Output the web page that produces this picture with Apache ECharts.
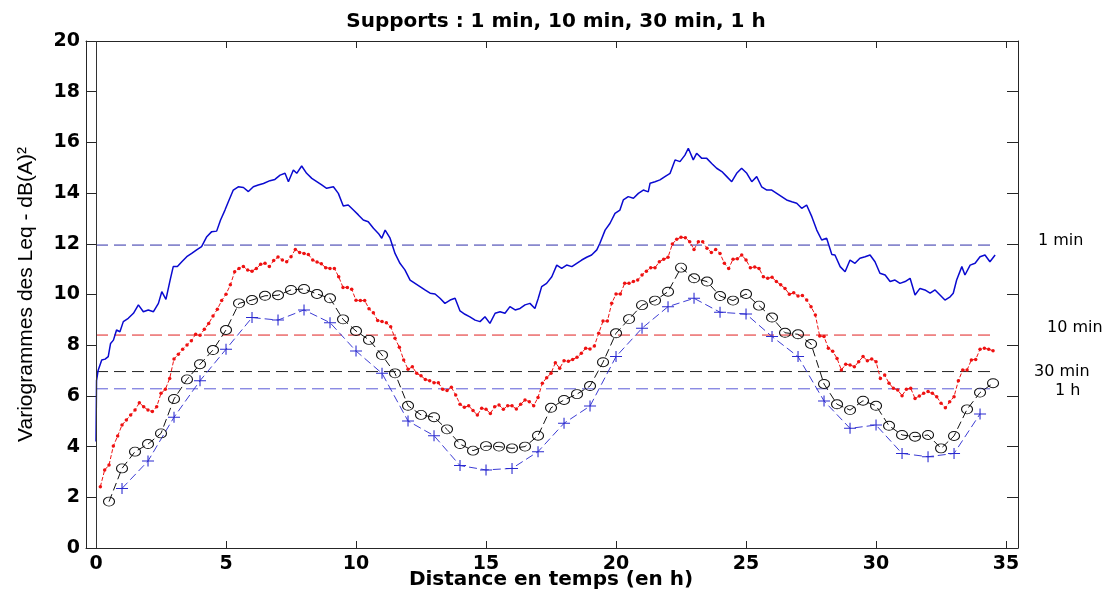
<!DOCTYPE html>
<html>
<head>
<meta charset="utf-8">
<script src="https://cdn.jsdelivr.net/npm/echarts@6/dist/echarts.min.js"></script>
<style>
  html, body { margin: 0; padding: 0; background: #fff; }
  #chart { width: 1112px; height: 594px; }
</style>
</head>
<body>
<div id="chart"></div>
<script>
// Tick labels
const xTicks = [0, 5, 10, 15, 20, 25, 30, 35];

// Support 1 min: experimental variogram (lag in h, value in dB(A)^2)
const lag1min = [0.00, 0.02, 0.08, 0.15, 0.22, 0.35, 0.47, 0.56, 0.67, 0.79, 0.92, 1.05, 1.24, 1.44, 1.63, 1.82, 2.01, 2.21, 2.40, 2.53, 2.69, 2.85, 2.97, 3.13, 3.30, 3.49, 3.68, 3.87, 4.06, 4.26, 4.45, 4.64, 4.79, 4.96, 5.09, 5.28, 5.47, 5.67, 5.86, 6.05, 6.24, 6.44, 6.69, 6.88, 7.08, 7.27, 7.40, 7.59, 7.72, 7.91, 8.10, 8.30, 8.49, 8.68, 8.87, 9.13, 9.32, 9.51, 9.70, 9.90, 10.09, 10.28, 10.47, 10.67, 10.86, 10.99, 11.12, 11.31, 11.50, 11.69, 11.88, 12.08, 12.27, 12.46, 12.65, 12.85, 13.04, 13.23, 13.42, 13.62, 13.81, 14.00, 14.19, 14.38, 14.58, 14.77, 14.96, 15.15, 15.35, 15.54, 15.73, 15.92, 16.12, 16.31, 16.50, 16.69, 16.88, 17.01, 17.14, 17.33, 17.53, 17.72, 17.91, 18.10, 18.30, 18.49, 18.68, 18.87, 19.06, 19.26, 19.38, 19.58, 19.77, 19.96, 20.15, 20.28, 20.47, 20.67, 20.86, 21.05, 21.24, 21.31, 21.50, 21.69, 21.88, 22.08, 22.27, 22.46, 22.65, 22.78, 22.97, 23.10, 23.30, 23.49, 23.68, 23.87, 24.07, 24.26, 24.45, 24.64, 24.83, 25.03, 25.22, 25.41, 25.60, 25.80, 25.99, 26.18, 26.37, 26.56, 26.76, 26.95, 27.14, 27.33, 27.53, 27.72, 27.91, 28.10, 28.30, 28.42, 28.62, 28.81, 29.00, 29.19, 29.38, 29.58, 29.77, 29.96, 30.15, 30.35, 30.54, 30.73, 30.92, 31.12, 31.31, 31.50, 31.69, 31.88, 32.08, 32.27, 32.46, 32.65, 32.85, 32.97, 33.10, 33.30, 33.42, 33.62, 33.81, 34.00, 34.19, 34.38, 34.58];
const vario1min = [4.20, 6.60, 7.00, 7.02, 7.42, 7.45, 7.55, 8.07, 8.20, 8.60, 8.53, 8.93, 9.06, 9.26, 9.59, 9.32, 9.39, 9.32, 9.65, 10.11, 9.81, 10.57, 11.10, 11.10, 11.29, 11.49, 11.62, 11.76, 11.89, 12.28, 12.48, 12.50, 12.94, 13.33, 13.66, 14.12, 14.25, 14.22, 14.06, 14.25, 14.32, 14.38, 14.49, 14.54, 14.71, 14.78, 14.45, 14.91, 14.78, 15.07, 14.78, 14.58, 14.45, 14.32, 14.19, 14.25, 13.99, 13.49, 13.53, 13.33, 13.14, 12.94, 12.87, 12.61, 12.41, 12.22, 12.54, 12.22, 11.62, 11.23, 10.97, 10.57, 10.44, 10.31, 10.18, 10.05, 10.02, 9.85, 9.65, 9.78, 9.85, 9.35, 9.22, 9.12, 8.99, 8.93, 9.12, 8.86, 9.26, 9.32, 9.26, 9.52, 9.39, 9.45, 9.59, 9.65, 9.45, 9.85, 10.31, 10.44, 10.70, 11.16, 11.03, 11.16, 11.10, 11.23, 11.36, 11.47, 11.56, 11.76, 12.02, 12.54, 12.81, 13.20, 13.33, 13.73, 13.86, 13.80, 13.99, 14.12, 14.05, 14.39, 14.45, 14.52, 14.65, 14.78, 15.31, 15.24, 15.50, 15.77, 15.31, 15.57, 15.37, 15.37, 15.17, 14.98, 14.85, 14.65, 14.45, 14.78, 14.98, 14.78, 14.45, 14.65, 14.25, 14.12, 14.12, 13.99, 13.86, 13.73, 13.66, 13.60, 13.40, 13.53, 13.07, 12.54, 12.15, 12.22, 11.58, 11.56, 11.10, 10.90, 11.36, 11.23, 11.43, 11.49, 11.56, 11.29, 10.84, 10.77, 10.51, 10.57, 10.44, 10.51, 10.64, 9.98, 10.24, 10.18, 10.05, 10.18, 9.98, 9.78, 9.91, 10.05, 10.57, 11.10, 10.77, 11.16, 11.23, 11.49, 11.56, 11.29, 11.56];

// Support 10 min: one value per 10-min lag, starting at 1/6 h
const vario10min = [2.42, 3.08, 3.27, 4.02, 4.42, 4.85, 5.05, 5.25, 5.44, 5.73, 5.57, 5.44, 5.38, 5.57, 6.10, 6.26, 6.69, 7.46, 7.64, 7.84, 8.01, 8.18, 8.43, 8.39, 8.63, 8.86, 9.15, 9.42, 9.76, 10.01, 10.38, 10.90, 11.03, 11.10, 10.97, 10.92, 11.03, 11.19, 11.23, 11.10, 11.34, 11.48, 11.36, 11.29, 11.49, 11.78, 11.66, 11.62, 11.58, 11.36, 11.28, 11.21, 11.06, 11.03, 11.03, 10.70, 10.28, 10.28, 10.21, 9.77, 9.76, 9.76, 9.44, 9.28, 8.97, 8.93, 8.89, 8.73, 8.27, 7.92, 7.42, 7.05, 7.15, 6.89, 6.79, 6.65, 6.60, 6.52, 6.52, 6.26, 6.21, 6.34, 6.04, 5.67, 5.55, 5.61, 5.42, 5.25, 5.51, 5.47, 5.31, 5.57, 5.64, 5.47, 5.61, 5.61, 5.48, 5.67, 5.84, 5.77, 5.61, 5.94, 6.50, 6.72, 6.89, 7.31, 7.09, 7.39, 7.37, 7.44, 7.52, 7.68, 7.88, 7.85, 7.97, 8.47, 8.95, 8.95, 9.65, 10.02, 10.02, 10.44, 10.44, 10.51, 10.57, 10.77, 10.92, 11.06, 11.06, 11.29, 11.39, 11.47, 11.99, 12.18, 12.26, 12.24, 12.08, 11.78, 12.08, 12.08, 11.82, 11.66, 11.78, 11.62, 11.23, 11.03, 11.39, 11.41, 11.56, 11.36, 11.06, 11.08, 11.03, 10.70, 10.64, 10.68, 10.51, 10.38, 10.24, 10.01, 10.07, 9.94, 9.96, 9.78, 9.52, 9.19, 8.36, 8.34, 7.88, 7.76, 7.48, 7.02, 7.25, 7.22, 7.15, 7.35, 7.55, 7.39, 7.46, 7.35, 6.69, 6.82, 6.50, 6.30, 6.23, 6.01, 6.26, 6.30, 5.90, 6.00, 6.10, 6.17, 6.10, 5.97, 5.71, 5.53, 5.77, 5.97, 6.60, 7.02, 7.02, 7.42, 7.44, 7.84, 7.88, 7.84, 7.78];

// Support 30 min: one value per 30-min lag, starting at 0.5 h
const vario30min = [1.83, 3.14, 3.80, 4.10, 4.52, 5.88, 6.65, 7.25, 7.81, 8.60, 9.65, 9.78, 9.95, 9.97, 10.18, 10.22, 10.02, 9.85, 9.02, 8.56, 8.21, 7.61, 6.89, 5.61, 5.25, 5.16, 4.68, 4.10, 3.84, 4.02, 4.00, 3.93, 4.00, 4.43, 5.53, 5.84, 6.07, 6.39, 7.33, 8.47, 9.03, 9.58, 9.76, 10.11, 11.06, 10.64, 10.51, 9.94, 9.76, 10.02, 9.56, 9.09, 8.49, 8.43, 8.05, 6.47, 5.67, 5.44, 5.81, 5.61, 4.82, 4.46, 4.39, 4.46, 3.93, 4.42, 5.47, 6.13, 6.50];

// Support 1 h: one value per 1-h lag, starting at 1 h
const vario1h = [2.35, 3.43, 5.16, 6.60, 7.84, 9.09, 8.99, 9.39, 8.89, 7.77, 6.89, 5.01, 4.43, 3.25, 3.08, 3.14, 3.80, 4.92, 5.60, 7.55, 8.67, 9.52, 9.85, 9.30, 9.23, 8.34, 7.55, 5.80, 4.72, 4.85, 3.73, 3.60, 3.73, 5.29];

// Sills (variance) of each support, drawn as dashed horizontal lines
const supports = ['1 min', '10 min', '30 min', '1 h'];
const sills = [11.95, 8.40, 6.96, 6.28];
const sillEnd = 34.5;

const FONT_BOLD = '"DejaVu Sans", Verdana, sans-serif';
const FONT_TEXT = '"Liberation Sans", Arial, Helvetica, sans-serif';

const pts1min = lag1min.map((x, i) => [x, vario1min[i]]);
const pts10min = vario10min.map((v, i) => [(i + 1) / 6, v]);
const pts30min = vario30min.map((v, i) => [(i + 1) * 0.5, v]);
const pts1h = vario1h.map((v, i) => [i + 1, v]);

const sillColors = ['#2e2ea8', '#e02020', '#222222', '#5a5ad8'];
const sillSeries = sills.map((s, i) => ({
  type: 'line',
  name: 'sill ' + supports[i],
  data: [[0, s], [sillEnd, s]],
  symbol: 'none',
  silent: true,
  z: 1,
  lineStyle: { color: sillColors[i], width: 1, type: [12, 6] }
}));

const plusPath = 'path://M0,4.55H10V5.45H0Z M4.55,0H5.45V10H4.55Z';

const chart = echarts.init(document.getElementById('chart'), null, { renderer: 'canvas' });

const axisLineStyle = { color: '#262626', width: 1 };

chart.setOption({
  animation: false,
  backgroundColor: '#ffffff',
  title: {
    text: 'Supports : 1 min, 10 min, 30 min, 1 h',
    left: 551,
    textAlign: 'center',
    top: 7,
    textStyle: { fontFamily: FONT_BOLD, fontSize: 20, fontWeight: 'bold', color: '#000' }
  },
  grid: { left: 86, right: 94, top: 41, bottom: 46, outerBoundsMode: 'none', containLabel: false },
  xAxis: [
    {
      type: 'value',
      position: 'bottom',
      min: -0.385,
      max: 35.46,
      axisLine: { show: true, onZero: false, lineStyle: axisLineStyle },
      axisTick: { show: true, inside: true, length: 7, customValues: xTicks, lineStyle: axisLineStyle },
      axisLabel: { customValues: xTicks, fontFamily: FONT_BOLD, fontSize: 19, fontWeight: 'bold', color: '#000', margin: 7 },
      splitLine: { show: false }
    },
    {
      type: 'value',
      position: 'top',
      min: -0.385,
      max: 35.46,
      axisLine: { show: true, onZero: false, lineStyle: axisLineStyle },
      axisTick: { show: true, inside: true, length: 7, customValues: xTicks, lineStyle: axisLineStyle },
      axisLabel: { show: false },
      splitLine: { show: false }
    }
  ],
  yAxis: [
    {
      type: 'value',
      position: 'left',
      min: 0,
      max: 20,
      interval: 2,
      name: 'Variogrammes des Leq - dB(A)²',
      nameLocation: 'middle',
      nameRotate: 90,
      nameGap: 49,
      nameTextStyle: { fontFamily: FONT_TEXT, fontSize: 21, color: '#000' },
      axisLine: { show: true, onZero: false, lineStyle: axisLineStyle },
      axisTick: { show: true, inside: true, length: 10, lineStyle: axisLineStyle },
      axisLabel: { fontFamily: FONT_BOLD, fontSize: 19, fontWeight: 'bold', color: '#000', margin: 6 },
      splitLine: { show: false }
    },
    {
      type: 'value',
      position: 'right',
      min: 0,
      max: 20,
      interval: 2,
      axisLine: { show: true, onZero: false, lineStyle: axisLineStyle },
      axisTick: { show: true, inside: true, length: 11, lineStyle: axisLineStyle },
      axisLabel: { show: false },
      splitLine: { show: false }
    }
  ],
  series: [
    ...sillSeries,
    {
      type: 'line',
      name: '1 min',
      data: pts1min,
      symbol: 'none',
      z: 3,
      lineStyle: { color: '#0a0ad0', width: 1.5 },
      markLine: {
        silent: true,
        symbol: 'none',
        label: { show: false },
        lineStyle: { color: '#333', width: 1, type: 'solid' },
        data: [{ xAxis: 0 }]
      }
    },
    {
      type: 'line',
      name: '10 min',
      data: pts10min,
      symbol: 'circle',
      symbolSize: 3.5,
      z: 4,
      lineStyle: { color: '#ee1111', width: 1, type: [4, 2] },
      itemStyle: { color: '#ee1111' }
    },
    {
      type: 'line',
      name: '30 min',
      data: pts30min,
      symbol: 'circle',
      symbolSize: [11, 9],
      z: 4,
      lineStyle: { color: '#111', width: 1, type: [8, 4] },
      itemStyle: { color: 'rgba(0,0,0,0)', borderColor: '#111', borderWidth: 1 }
    },
    {
      type: 'line',
      name: '1 h',
      data: pts1h,
      symbol: plusPath,
      symbolSize: [12, 11],
      z: 4,
      lineStyle: { color: '#3c3cd4', width: 1, type: [8, 4] },
      itemStyle: { color: '#2a2ad0' }
    }
  ],
  graphic: [
    {
      type: 'text', x: 551, y: 580,
      style: {
        text: 'Distance en temps (en h)', font: 'bold 20px ' + FONT_BOLD, fill: '#000',
        align: 'center', verticalAlign: 'middle'
      }
    },
    { type: 'text', left: 1038, top: 233, style: { text: '1 min', font: '16px ' + FONT_BOLD, fill: '#000' } },
    { type: 'text', left: 1047, top: 320, style: { text: '10 min', font: '16px ' + FONT_BOLD, fill: '#000' } },
    { type: 'text', left: 1034, top: 364, style: { text: '30 min', font: '16px ' + FONT_BOLD, fill: '#000' } },
    { type: 'text', left: 1055, top: 383, style: { text: '1 h', font: '16px ' + FONT_BOLD, fill: '#000' } }
  ]
});
</script>
</body>
</html>
